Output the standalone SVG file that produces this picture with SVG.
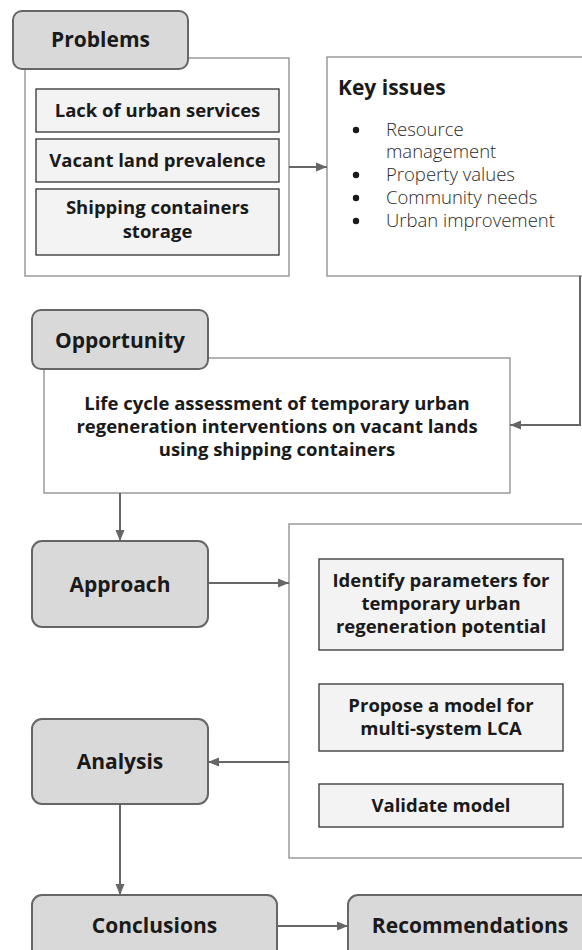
<svg xmlns="http://www.w3.org/2000/svg" width="582" height="950" viewBox="0 0 582 950">
  <defs>
    <marker id="arrow" markerUnits="userSpaceOnUse" markerWidth="12" markerHeight="10" refX="11" refY="5" orient="auto">
      <path d="M0,0.5 L11,5 L0,9.5 z" fill="#666666"/>
    </marker>
  </defs>
  <style>
    .tab { fill: #d9d9d9; stroke: #666666; stroke-width: 2; }
    .panel { fill: #ffffff; stroke: #8a8a8a; stroke-width: 1.3; }
    .item { fill: #f3f3f3; stroke: #333333; stroke-width: 1.3; }
    .head { font-family: "Open Sans", "Liberation Sans", sans-serif; font-weight: 700; font-size: 21px; fill: #1a1a1a; text-anchor: middle; }
    .body { font-family: "Open Sans", "Liberation Sans", sans-serif; font-weight: 700; font-size: 18.5px; fill: #1a1a1a; text-anchor: middle; }
    .bullet { font-family: "Open Sans", "Liberation Sans", sans-serif; font-weight: 300; font-size: 18.5px; fill: #2b2b2b; }
    .conn { fill: none; stroke: #666666; stroke-width: 2; }
  </style>

  <rect width="582" height="950" fill="#ffffff"/>

  <!-- Problems: container with three items, header tab on top -->
  <g id="problems">
    <rect class="panel" x="25" y="58" width="264" height="218"/>
    <rect class="tab" x="13" y="11" width="175" height="58" rx="9"/>
    <text class="head" x="100.5" y="47">Problems</text>
  </g>
  <g id="lack-of-services">
    <rect class="item" x="36" y="89" width="243" height="43"/>
    <text class="body" x="157.5" y="117">Lack of urban services</text>
  </g>
  <g id="vacant-land">
    <rect class="item" x="36" y="139" width="243" height="43"/>
    <text class="body" x="157.5" y="167">Vacant land prevalence</text>
  </g>
  <g id="container-storage">
    <rect class="item" x="36" y="189" width="243" height="66"/>
    <text class="body" x="157.5" y="214">Shipping containers</text>
    <text class="body" x="157.5" y="238">storage</text>
  </g>

  <!-- Key issues list -->
  <g id="key-issues">
    <rect class="panel" x="327" y="57" width="280" height="219"/>
    <text class="head" x="338" y="95" style="text-anchor:start">Key issues</text>
    <circle cx="356" cy="130" r="3.2" fill="#1a1a1a"/>
    <text class="bullet" x="386" y="136">Resource</text>
    <text class="bullet" x="386" y="158">management</text>
    <circle cx="356" cy="175" r="3.2" fill="#1a1a1a"/>
    <text class="bullet" x="386" y="181">Property values</text>
    <circle cx="356" cy="198" r="3.2" fill="#1a1a1a"/>
    <text class="bullet" x="386" y="204">Community needs</text>
    <circle cx="356" cy="221" r="3.2" fill="#1a1a1a"/>
    <text class="bullet" x="386" y="227">Urban improvement</text>
  </g>

  <!-- Opportunity -->
  <g id="opportunity">
    <rect class="panel" x="44" y="358" width="466" height="135"/>
    <rect class="tab" x="32" y="310" width="176" height="59" rx="9"/>
    <text class="head" x="120" y="348">Opportunity</text>
    <text class="body" x="277" y="410">Life cycle assessment of temporary urban</text>
    <text class="body" x="277" y="433">regeneration interventions on vacant lands</text>
    <text class="body" x="277" y="456">using shipping containers</text>
  </g>

  <!-- Approach / Analysis / Conclusions / Recommendations -->
  <g id="approach">
    <rect class="tab" x="32" y="541" width="176" height="86" rx="10"/>
    <text class="head" x="120" y="591.5">Approach</text>
  </g>
  <g id="analysis">
    <rect class="tab" x="32" y="719" width="176" height="85" rx="10"/>
    <text class="head" x="120" y="768.5">Analysis</text>
  </g>
  <g id="conclusions">
    <rect class="tab" x="32" y="895" width="245" height="70" rx="10"/>
    <text class="head" x="154.5" y="933">Conclusions</text>
  </g>
  <g id="recommendations">
    <rect class="tab" x="348" y="895" width="245" height="70" rx="10"/>
    <text class="head" x="470" y="933">Recommendations</text>
  </g>

  <!-- Method steps panel -->
  <g id="steps">
    <rect class="panel" x="289" y="524" width="320" height="334"/>
  </g>
  <g id="identify-parameters">
    <rect class="item" x="319" y="559" width="244" height="91"/>
    <text class="body" x="441" y="587">Identify parameters for</text>
    <text class="body" x="441" y="610">temporary urban</text>
    <text class="body" x="441" y="633">regeneration potential</text>
  </g>
  <g id="propose-model">
    <rect class="item" x="319" y="684" width="244" height="67"/>
    <text class="body" x="441" y="712">Propose a model for</text>
    <text class="body" x="441" y="735">multi-system LCA</text>
  </g>
  <g id="validate-model">
    <rect class="item" x="319" y="784" width="244" height="43"/>
    <text class="body" x="441" y="812">Validate model</text>
  </g>

  <!-- Connectors -->
  <g id="connectors">
    <path class="conn" d="M289,167 H327" marker-end="url(#arrow)"/>
    <path class="conn" d="M580,276 V425 H510" marker-end="url(#arrow)"/>
    <path class="conn" d="M120,493 V541" marker-end="url(#arrow)"/>
    <path class="conn" d="M208,583 H289" marker-end="url(#arrow)"/>
    <path class="conn" d="M289,762 H208" marker-end="url(#arrow)"/>
    <path class="conn" d="M120,804 V895" marker-end="url(#arrow)"/>
    <path class="conn" d="M277,926 H348" marker-end="url(#arrow)"/>
  </g>
</svg>
